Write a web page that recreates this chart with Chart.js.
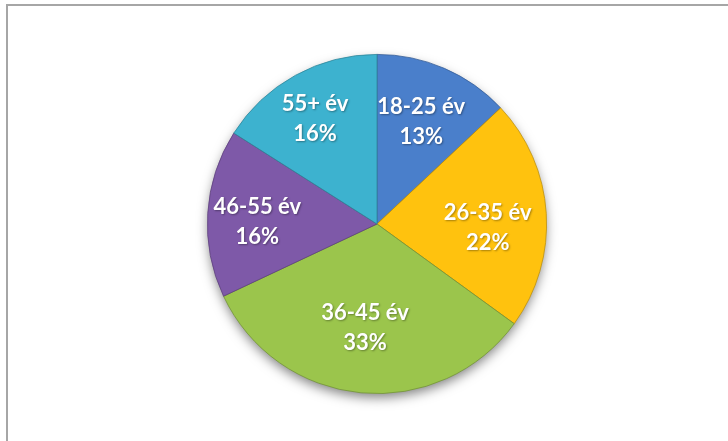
<!DOCTYPE html>
<html>
<head>
<meta charset="utf-8">
<script src="https://cdn.jsdelivr.net/npm/chart.js@4.4.1/dist/chart.umd.min.js"></script>
<style>
  html, body { margin: 0; padding: 0; background: #ffffff; }
  #wrap { position: relative; width: 728px; height: 441px; overflow: hidden; }
  #frame {
    position: absolute; left: 6px; top: 4px; width: 760px; height: 480px;
    border-top: 2px solid #a6a6a6; border-left: 2px solid #a6a6a6;
    box-sizing: border-box;
  }
  canvas { position: absolute; left: 0; top: 0; }
</style>
</head>
<body>
<div id="wrap">
  <div id="frame"></div>
  <canvas id="chart" width="728" height="441"></canvas>
</div>
<script>
// Age groups and their share of respondents (%)
const categories = ['18-25 év', '26-35 év', '36-45 év', '46-55 év', '55+ év'];
const shares = [13, 22, 33, 16, 16];

const baseColors = ['#4a7fcb', '#ffc20e', '#9bc54c', '#7e59a8', '#3db2cf'];
// label placement: distance from the centre (fraction of radius) and a small angular nudge (degrees)
const labelRadius = [0.656, 0.653, 0.616, 0.706, 0.717];
const labelTurn = [0, 5.6, 1.2, -2.6, -1.8];

function shade(hex, f) {
  const n = parseInt(hex.slice(1), 16);
  let r = (n >> 16) & 255, g = (n >> 8) & 255, b = n & 255;
  if (f < 0) { r *= 1 + f; g *= 1 + f; b *= 1 + f; }
  else { r += (255 - r) * f; g += (255 - g) * f; b += (255 - b) * f; }
  return 'rgb(' + Math.round(r) + ',' + Math.round(g) + ',' + Math.round(b) + ')';
}

// bevelled fill: flat body that darkens towards the rim
function sliceFill(ctx) {
  const chart = ctx.chart;
  const arc = chart.getDatasetMeta(0).data[ctx.dataIndex];
  const base = baseColors[ctx.dataIndex];
  if (!arc || !arc.outerRadius) return base;
  const g = chart.ctx.createRadialGradient(arc.x, arc.y, 0, arc.x, arc.y, arc.outerRadius);
  g.addColorStop(0, shade(base, 0.04));
  g.addColorStop(0.85, base);
  g.addColorStop(0.94, shade(base, -0.08));
  g.addColorStop(1, shade(base, -0.25));
  return g;
}

const pieShadow = {
  id: 'pieShadow',
  beforeDatasetsDraw(chart) {
    const arc = chart.getDatasetMeta(0).data[0];
    if (!arc) return;
    const c = chart.ctx;
    c.save();
    c.shadowColor = 'rgba(0,0,0,0.5)';
    c.shadowBlur = 12;
    c.shadowOffsetY = 5;
    c.fillStyle = '#777';
    c.beginPath();
    c.arc(arc.x, arc.y, arc.outerRadius - 1, 0, Math.PI * 2);
    c.fill();
    c.restore();
  }
};

const sliceLabels = {
  id: 'sliceLabels',
  afterDatasetsDraw(chart) {
    const c = chart.ctx;
    const meta = chart.getDatasetMeta(0);
    const total = shares.reduce((a, b) => a + b, 0);
    c.save();
    c.fillStyle = '#ffffff';
    c.textAlign = 'center';
    c.textBaseline = 'middle';
    c.font = 'bold 22px Lato, "Open Sans", sans-serif';
    c.shadowColor = 'rgba(0,0,0,0.35)';
    c.shadowBlur = 2;
    c.shadowOffsetX = 1;
    c.shadowOffsetY = 1;
    meta.data.forEach((arc, i) => {
      const mid = (arc.startAngle + arc.endAngle) / 2 + labelTurn[i] * Math.PI / 180;
      const r = arc.outerRadius * labelRadius[i];
      const x = arc.x + Math.cos(mid) * r;
      const y = arc.y + Math.sin(mid) * r;
      const pct = Math.round(shares[i] / total * 100) + '%';
      c.fillText(categories[i], x, y - 15);
      c.fillText(pct, x, y + 15);
    });
    c.restore();
  }
};

new Chart(document.getElementById('chart'), {
  type: 'pie',
  data: {
    labels: categories,
    datasets: [{
      data: shares,
      backgroundColor: sliceFill,
      borderColor: baseColors.map(c => shade(c, -0.25)),
      borderWidth: 0.8,
      hoverOffset: 0
    }]
  },
  options: {
    responsive: false,
    animation: false,
    layout: { padding: { top: 54, bottom: 47, left: 207, right: 181 } },
    plugins: {
      legend: { display: false },
      tooltip: { enabled: false }
    }
  },
  plugins: [pieShadow, sliceLabels]
});
</script>
</body>
</html>
